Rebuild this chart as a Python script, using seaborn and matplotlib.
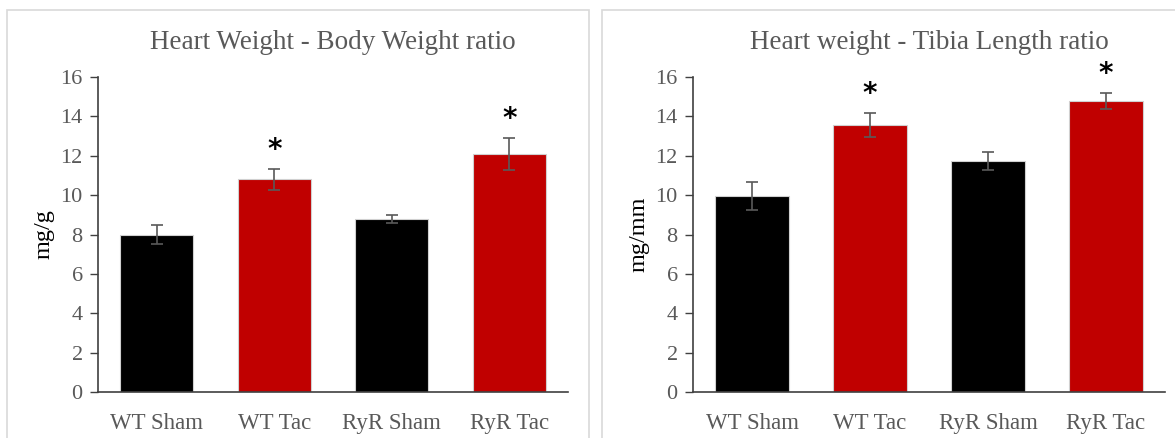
import numpy as np
import pandas as pd
import seaborn as sns
import matplotlib
matplotlib.use('Agg')
import matplotlib.pyplot as plt
from matplotlib.patches import Rectangle

groups = ['WT Sham', 'WT Tac', 'RyR Sham', 'RyR Tac']
hw_bw = [8.0, 10.8, 8.8, 12.1]
hw_bw_err = [0.5, 0.55, 0.2, 0.8]
hw_tl = [9.95, 13.55, 11.75, 14.8]
hw_tl_err = [0.7, 0.6, 0.45, 0.4]
significant = [False, True, False, True]

bar_colors = ['#000000', '#c00000', '#000000', '#c00000']

sns.set_theme(style='white')
plt.rcParams['font.family'] = ['Liberation Serif', 'DejaVu Serif']

fig = plt.figure(figsize=(11.75, 4.38), dpi=100)

# light frames around the two panels
fig.add_artist(Rectangle((7 / 1175, -0.01), 582 / 1175, 1 - 10 / 438 + 0.01,
                         transform=fig.transFigure, fill=False,
                         edgecolor='#d9d9d9', linewidth=1.2))
fig.add_artist(Rectangle((602 / 1175, -0.01), 580 / 1175, 1 - 10 / 438 + 0.01,
                         transform=fig.transFigure, fill=False,
                         edgecolor='#d9d9d9', linewidth=1.2))


def draw_panel(ax, values, errs, title, ylabel):
    df = pd.DataFrame({'group': groups, 'value': values})
    sns.barplot(data=df, x='group', y='value', hue='group', palette=bar_colors,
                width=0.62, saturation=1, legend=False, ax=ax,
                edgecolor='#d0d0d0', linewidth=0.8)
    ax.errorbar(np.arange(len(groups)), values, yerr=errs, fmt='none',
                ecolor='#595959', elinewidth=1.2, capsize=4, capthick=1.2)
    for i, (v, e, s) in enumerate(zip(values, errs, significant)):
        if s:
            ax.text(i, v + e + 0.25, '*', ha='center', va='bottom',
                    fontsize=20, fontweight='bold', family='DejaVu Sans',
                    color='#000000')
    ax.set_ylim(0, 16)
    ax.set_xlim(-0.5, 3.5)
    ax.set_yticks(range(0, 17, 2))
    ax.set_xlabel('')
    ax.set_ylabel(ylabel, fontsize=17.5, color='#000000', labelpad=4)
    ax.set_title(title, fontsize=19.5, color='#595959', pad=20)
    for side in ['top', 'right']:
        ax.spines[side].set_visible(False)
    for side in ['left', 'bottom']:
        ax.spines[side].set_color('#404040')
        ax.spines[side].set_linewidth(1.2)
    ax.tick_params(axis='y', left=True, length=6, width=1, color='#404040',
                   labelsize=16, labelcolor='#595959', pad=5)
    ax.tick_params(axis='x', bottom=False, labelsize=16.5, labelcolor='#595959',
                   pad=9)


ax1 = fig.add_axes([98 / 1175, 46 / 438, 470 / 1175, 315 / 438])
ax2 = fig.add_axes([693 / 1175, 46 / 438, 472 / 1175, 315 / 438])

draw_panel(ax1, hw_bw, hw_bw_err, 'Heart Weight - Body Weight ratio', 'mg/g')
draw_panel(ax2, hw_tl, hw_tl_err, 'Heart weight - Tibia Length ratio', 'mg/mm')

fig.savefig('out.png', dpi=100)
